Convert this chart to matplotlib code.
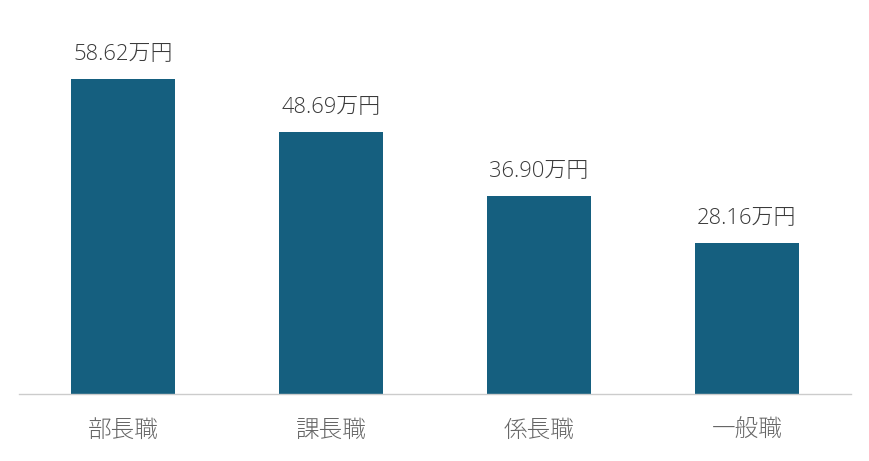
import matplotlib
matplotlib.use("Agg")
import matplotlib.pyplot as plt

plt.rcParams['font.family'] = ['Noto Sans CJK JP', 'DejaVu Sans']

categories = ["部長職", "課長職", "係長職", "一般職"]
values = [58.62, 48.69, 36.90, 28.16]
labels = ["58.62万円", "48.69万円", "36.90万円", "28.16万円"]

fig = plt.figure(figsize=(8.7, 4.61), dpi=100)
ax = fig.add_axes([19/870, 67/461, 832/870, 394/461])
x = list(range(len(categories)))
bars = ax.bar(x, values, width=0.5, color="#155f7f")
ax.set_xlim(-0.5, 3.5)
ax.set_ylim(0, 394/5.374)
for xi, v, lab in zip(x, values, labels):
    ax.annotate(lab, (xi, v), xytext=(0, 14), textcoords="offset pixels",
                ha="center", va="bottom", fontsize=15.8, color="#3a3a3a",
                family=['Open Sans', 'Noto Sans CJK JP'], fontweight='light')
ax.set_xticks(x)
ax.set_xticklabels(categories, fontsize=17, color="#666666", fontweight='light')
ax.tick_params(axis="x", length=0, pad=17)
ax.set_yticks([])
for s in ["top", "right", "left"]:
    ax.spines[s].set_visible(False)
ax.spines["bottom"].set_color("#cccccc")
ax.spines["bottom"].set_linewidth(1)
fig.savefig("out.png", dpi=100)
